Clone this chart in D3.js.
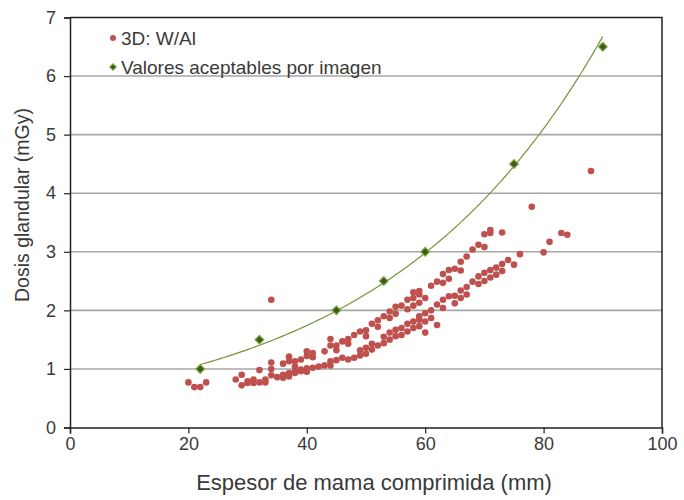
<!DOCTYPE html>
<html>
<head>
<meta charset="utf-8">
<script src="https://cdn.jsdelivr.net/npm/d3@7"></script>
<style>
  html, body { margin: 0; padding: 0; background: #fff; }
  svg { display: block; font-family: "Liberation Sans", Arial, sans-serif; }
</style>
</head>
<body>
<div id="chart"></div>
<script>
// ─── Data ────────────────────────────────────────────────────────────────────
const thickness = [
  20, 21, 22, 23, 28, 29, 29, 30, 30, 31, 31, 32, 32, 33, 33,
  34, 34, 34, 34, 35, 36, 36, 36, 37, 37, 37, 37, 38, 38, 38, 38,
  39, 39, 39, 40, 40, 40, 40, 41, 41, 41, 42, 43, 43, 44, 44, 44, 44,
  45, 45, 45, 46, 46, 47, 47, 47, 48, 48, 49, 49, 49, 50, 50, 50, 50,
  51, 51, 51, 52, 52, 52, 53, 53, 53, 54, 54, 54, 54, 55, 55, 55, 55,
  56, 56, 56, 57, 57, 57, 57, 58, 58, 58, 58, 58, 59, 59, 59, 59, 59, 59,
  60, 60, 60, 60, 61, 61, 61, 62, 62, 62, 63, 63, 63, 63, 64, 64, 64,
  65, 65, 65, 66, 66, 66, 66, 67, 67, 67, 68, 68, 69, 69, 69,
  70, 70, 70, 70, 71, 71, 71, 71, 72, 72, 73, 73, 73, 74, 75, 76,
  78, 80, 81, 83, 84, 88
];
const dose = [
  0.77, 0.69, 0.69, 0.77, 0.82, 0.90, 0.72, 0.79, 0.76, 0.82, 0.76, 0.77, 0.98, 0.82, 0.77,
  1.11, 1.00, 0.89, 2.18, 0.86, 1.09, 0.90, 0.85, 1.21, 1.13, 0.93, 0.87, 1.13, 1.04, 0.96, 0.93,
  1.16, 0.99, 0.96, 1.30, 1.22, 1.01, 0.95, 1.27, 1.20, 1.02, 1.04, 1.30, 1.06, 1.51, 1.40, 1.13, 1.06,
  1.40, 1.32, 1.15, 1.47, 1.19, 1.51, 1.43, 1.16, 1.58, 1.19, 1.64, 1.32, 1.23, 1.66, 1.56, 1.36, 1.26,
  1.77, 1.43, 1.33, 1.83, 1.72, 1.40, 1.90, 1.55, 1.44, 1.98, 1.87, 1.62, 1.50, 2.06, 1.94, 1.67, 1.56,
  2.08, 1.70, 1.58, 2.18, 2.02, 1.77, 1.64, 2.31, 2.21, 2.08, 1.81, 1.70, 2.33, 2.27, 2.13, 1.90, 1.84, 1.73,
  2.21, 1.95, 1.81, 1.62, 2.42, 2.00, 1.87, 2.49, 2.10, 1.75, 2.62, 2.47, 2.18, 2.04, 2.69, 2.54, 2.24,
  2.71, 2.25, 2.12, 2.83, 2.68, 2.34, 2.21, 2.92, 2.40, 2.27, 3.04, 2.49, 3.12, 2.58, 2.45,
  3.30, 3.08, 2.64, 2.50, 3.37, 3.32, 2.69, 2.56, 2.73, 2.61, 3.33, 2.79, 2.67, 2.86, 2.78, 2.96,
  3.77, 2.99, 3.17, 3.32, 3.29, 4.38
];
const refThickness = [22, 32, 45, 53, 60, 75, 90];
const refDose = [1, 1.5, 2, 2.5, 3, 4.5, 6.5];

const xTicks = [0, 20, 40, 60, 80, 100];
const yTicks = [0, 1, 2, 3, 4, 5, 6, 7];
const legendLabels = ['3D: W/Al', 'Valores aceptables por imagen'];

// ─── Layout ──────────────────────────────────────────────────────────────────
const W = 684, H = 500;
const margin = { left: 70, right: 22, top: 17.5, bottom: 72.5 };
const RED = '#c0504d';
const GREEN_DARK = '#3f5a1c';
const GREEN_EDGE = '#7fa845';
const GREEN_LINE = '#77933c';

const svg = d3.select('#chart').append('svg')
  .attr('width', W).attr('height', H);

const x = d3.scaleLinear().domain([0, 100]).range([margin.left, W - margin.right]);
const y = d3.scaleLinear().domain([0, 7]).range([H - margin.bottom, margin.top]);

// Gridlines
svg.append('g')
  .selectAll('line')
  .data(yTicks.filter(t => t > 0 && t < 7))
  .enter().append('line')
  .attr('x1', x(0)).attr('x2', x(100))
  .attr('y1', d => y(d)).attr('y2', d => y(d))
  .attr('stroke', '#a6a6a6')
  .attr('stroke-width', 1.6);

// Frame (top + right)
svg.append('path')
  .attr('d', `M${x(0)},${y(7)} H${x(100)} V${y(0)}`)
  .attr('fill', 'none')
  .attr('stroke', '#222')
  .attr('stroke-width', 1.5);

// Axes
const xAxis = svg.append('g')
  .attr('transform', `translate(0,${y(0)})`)
  .call(d3.axisBottom(x).tickValues(xTicks).tickFormat(d3.format('d')).tickSize(6).tickPadding(4));
const yAxis = svg.append('g')
  .attr('transform', `translate(${x(0)},0)`)
  .call(d3.axisLeft(y).tickValues(yTicks).tickFormat(d3.format('d')).tickSize(6).tickPadding(8));

[xAxis, yAxis].forEach(a => {
  a.select('.domain').attr('stroke', '#222').attr('stroke-width', 1.5);
  a.selectAll('.tick line').attr('stroke', '#222').attr('stroke-width', 1.2);
  a.selectAll('.tick text')
    .attr('fill', '#3a3a3a')
    .style('font-size', '18px')
    .style('font-family', '"Liberation Sans", Arial, sans-serif');
});

// Axis titles
svg.append('text')
  .attr('x', (x(0) + x(100)) / 2 + 8)
  .attr('y', 490)
  .attr('text-anchor', 'middle')
  .attr('fill', '#3a3a3a')
  .style('font-size', '22px')
  .text('Espesor de mama comprimida (mm)');

svg.append('text')
  .attr('transform', `translate(29,205) rotate(-90)`)
  .attr('text-anchor', 'middle')
  .attr('fill', '#3a3a3a')
  .style('font-size', '19.5px')
  .text('Dosis glandular (mGy)');

// Exponential trendline fitted on the reference values (least squares on ln y)
const lnY = refDose.map(Math.log);
const mx = d3.mean(refThickness), my = d3.mean(lnY);
const b = d3.sum(refThickness, (v, i) => (v - mx) * (lnY[i] - my)) /
          d3.sum(refThickness, v => (v - mx) * (v - mx));
const a = Math.exp(my - b * mx);
const trendX = d3.range(d3.min(refThickness), d3.max(refThickness) + 0.01, 0.5);

svg.append('path')
  .datum(trendX)
  .attr('d', d3.line().x(d => x(d)).y(d => y(a * Math.exp(b * d))))
  .attr('fill', 'none')
  .attr('stroke', GREEN_LINE)
  .attr('stroke-width', 1.2);

// Measured points
svg.append('g')
  .selectAll('circle')
  .data(thickness.map((t, i) => [t, dose[i]]))
  .enter().append('circle')
  .attr('cx', d => x(d[0]))
  .attr('cy', d => y(d[1]))
  .attr('r', 3.3)
  .attr('fill', RED);

// Reference diamonds (square rotated 45°)
const diamond = d3.symbol().type(d3.symbolSquare).size(38);
svg.append('g')
  .selectAll('path')
  .data(refThickness.map((t, i) => [t, refDose[i]]))
  .enter().append('path')
  .attr('d', diamond)
  .attr('transform', d => `translate(${x(d[0])},${y(d[1])}) rotate(45)`)
  .attr('fill', GREEN_DARK)
  .attr('stroke', GREEN_EDGE)
  .attr('stroke-width', 1.2);

// Legend
const legend = svg.append('g').attr('transform', 'translate(113,38)');
legend.append('circle').attr('cx', 0).attr('cy', 0).attr('r', 3).attr('fill', RED);
legend.append('path').attr('d', d3.symbol().type(d3.symbolSquare).size(22))
  .attr('transform', 'translate(0,29) rotate(45)')
  .attr('fill', GREEN_DARK).attr('stroke', GREEN_EDGE).attr('stroke-width', 1);
legend.selectAll('text')
  .data(legendLabels)
  .enter().append('text')
  .attr('x', 8)
  .attr('y', (d, i) => i * 29)
  .attr('dy', '0.36em')
  .attr('fill', '#3a3a3a')
  .style('font-size', '19px')
  .text(d => d);
</script>
</body>
</html>
